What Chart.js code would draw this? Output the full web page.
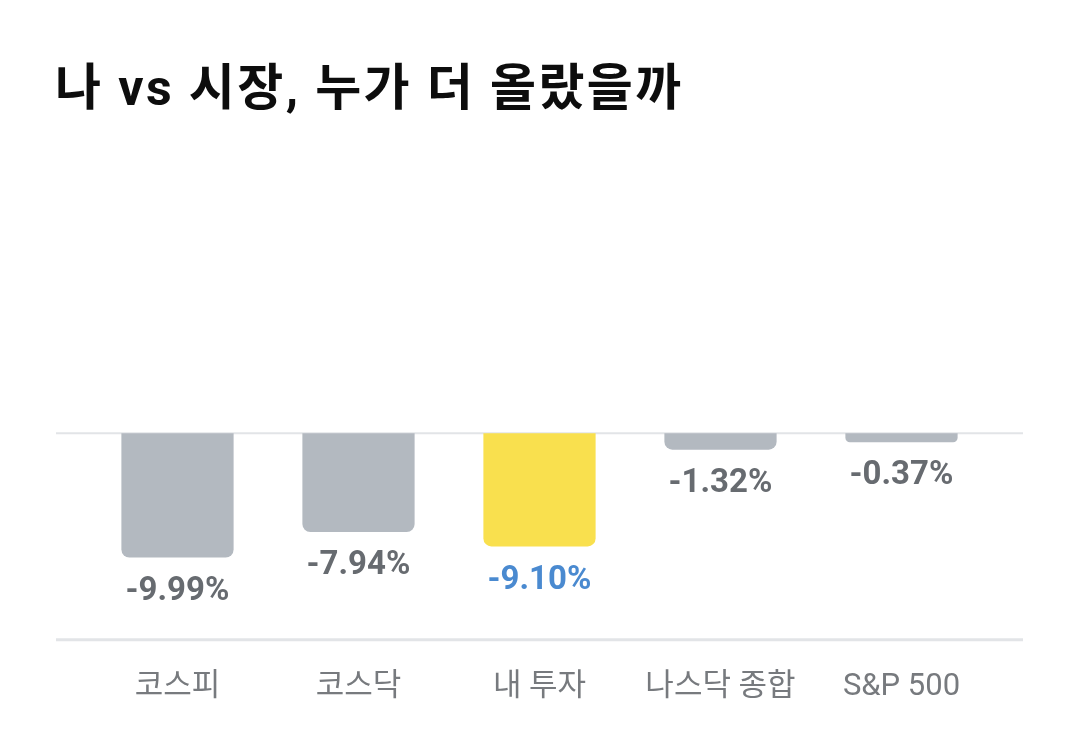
<!DOCTYPE html>
<html lang="ko">
<head>
<meta charset="utf-8">
<title>나 vs 시장</title>
<script src="https://cdn.jsdelivr.net/npm/chart.js@4"></script>
<style>
  html, body { margin: 0; padding: 0; background: #fff; }
  body { width: 1080px; height: 748px; position: relative; overflow: hidden; }
  h1 {
    position: absolute; left: 55px; top: 63px; margin: 0;
    font: 700 50px/1 Roboto, "Noto Sans CJK KR", sans-serif;
    color: #0d0d0d; letter-spacing: 2.4px;
  }
  #wrap { position: absolute; left: 0; top: 0; width: 1080px; height: 748px; }
</style>
</head>
<body>
<h1>나 vs 시장, 누가 더 올랐을까</h1>
<div id="wrap"><canvas id="myChart"></canvas></div>
<script>
const labels = ["코스피", "코스닥", "내 투자", "나스닥 종합", "S&P 500"];
const returns = [-9.99, -7.94, -9.10, -1.32, -0.37];
const mine = 2; // index of "내 투자"

const ctx = document.getElementById('myChart').getContext("2d");

// baseline + bottom line, a bit wider than the plot area
const lines = {
  id: 'lines',
  beforeDatasetsDraw(chart) {
    const { ctx, chartArea, scales } = chart;
    const y0 = scales.y.getPixelForValue(0);
    ctx.save();
    ctx.strokeStyle = "#e2e4e7";
    ctx.lineWidth = 2;
    ctx.beginPath();
    ctx.moveTo(chartArea.left - 31, y0);
    ctx.lineTo(chartArea.right + 31, y0);
    ctx.stroke();
    ctx.lineWidth = 3;
    ctx.beginPath();
    ctx.moveTo(chartArea.left - 31, chartArea.bottom);
    ctx.lineTo(chartArea.right + 31, chartArea.bottom);
    ctx.stroke();
    ctx.restore();
  }
};

// value labels under each bar
const valueLabels = {
  id: 'valueLabels',
  afterDatasetsDraw(chart) {
    const { ctx } = chart;
    const meta = chart.getDatasetMeta(0);
    ctx.save();
    ctx.font = "700 33px Roboto, 'Noto Sans CJK KR', sans-serif";
    ctx.textAlign = "center";
    ctx.textBaseline = "middle";
    meta.data.forEach((bar, i) => {
      ctx.fillStyle = i === mine ? "#4a8ad0" : "#676b70";
      ctx.fillText(returns[i].toFixed(2) + "%", bar.x, bar.y + 34);
    });
    ctx.restore();
  }
};

const data = {
  labels,
  datasets: [
    {
      data: returns,
      backgroundColor: returns.map((v, i) => i === mine ? "#f9e04e" : "#b3b9c0"),
      borderRadius: 8,
      borderSkipped: 'start',
      barPercentage: 0.62,
      categoryPercentage: 1,
      minBarLength: 9,
    },
  ],
};

const config = {
  type: 'bar',
  data: data,
  options: {
    responsive: true,
    maintainAspectRatio: false,
    animation: false,
    layout: {
      padding: { left: 87, right: 88, top: 198, bottom: 21 },
    },
    plugins: {
      legend: { display: false },
      tooltip: { enabled: false },
    },
    scales: {
      x: {
        grid: { display: false },
        border: { display: false },
        ticks: {
          color: "#777a7e",
          padding: 21,
          font: { size: 31, family: "Roboto, 'Noto Sans CJK KR', sans-serif" },
        },
      },
      y: {
        display: false,
        min: -16.6,
        max: 18.9,
      },
    },
  },
  plugins: [lines, valueLabels],
};

new Chart(ctx, config);
</script>
</body>
</html>
